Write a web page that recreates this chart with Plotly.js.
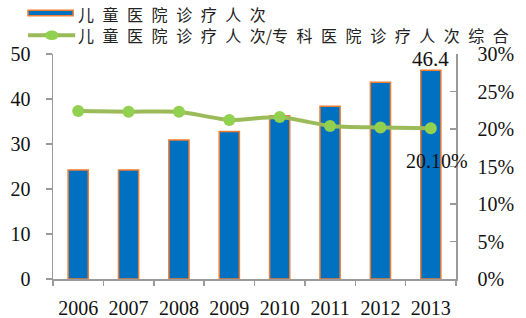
<!DOCTYPE html>
<html><head><meta charset="utf-8">
<script src="https://cdn.plot.ly/plotly-3.0.1.min.js"></script>
<style>html,body{margin:0;padding:0;background:#fff}#c{width:526px;height:318px}</style>
</head><body><div id="c"></div>
<script>
const years = ['2006','2007','2008','2009','2010','2011','2012','2013'];
const visits = [24.2, 24.2, 30.9, 32.8, 36.3, 38.4, 43.7, 46.4];
const ratio = [0.224, 0.223, 0.223, 0.212, 0.216, 0.204, 0.202, 0.201];
const barName = '儿童医院诊疗人次';
const lineName = '儿童医院诊疗人次/专科医院诊疗人次综合';
const spacer = '\u2004\u2009';
const spaced = s => {
  const c = s.split('');
  let out = c[0];
  for (let i = 1; i < c.length; i++) {
    out += (c[i] === '/' || c[i-1] === '/') ? '' : spacer;
    out += c[i];
  }
  return out;
};

const serif = '"Liberation Serif","Times New Roman",serif';
const cjk = '"Noto Sans CJK SC","Noto Sans CJK JP",sans-serif';
const blue = '#0070C0', orange = '#ED7D31', green = '#92D050', lineGreen = '#9BBB59', gray = '#9a9a9a';

const traces = [
  {type:'bar', x:years, y:visits, name:barName, width:0.4,
   marker:{color:blue, line:{color:orange, width:1.5}}, showlegend:false},
  {type:'scatter', mode:'lines+markers', x:years, y:ratio, yaxis:'y2', name:lineName,
   line:{color:lineGreen, width:4, shape:'spline', smoothing:0.6},
   marker:{color:green, size:12}, showlegend:false}
];

const last = years.length-1;
const layout = {
  width:526, height:318, margin:{l:53, r:70, t:54, b:39},
  paper_bgcolor:'#fff', plot_bgcolor:'#fff',
  font:{family:serif, size:16, color:'#111'},
  xaxis:{type:'category', categoryorder:'array', categoryarray:years, range:[-0.5, years.length-0.5],
    showline:true, linecolor:gray, linewidth:1.5,
    ticks:'outside', tickson:'boundaries', ticklen:5, tickcolor:gray, tickwidth:1.5,
    ticklabelstandoff:10, tickangle:0,
    showgrid:false, zeroline:false, tickfont:{family:serif, size:20}},
  yaxis:{range:[0,50], dtick:10, showline:true, linecolor:gray, linewidth:1.5,
    ticks:'outside', ticklen:6, tickcolor:gray, tickwidth:1.5, showgrid:false, zeroline:false,
    ticklabelstandoff:11, tickfont:{family:serif, size:20}},
  yaxis2:{range:[0,0.3], dtick:0.05, tickformat:'.0%', overlaying:'y', side:'right',
    showline:true, linecolor:gray, linewidth:1.5, ticks:'inside', ticklen:6, tickcolor:gray,
    tickwidth:1.5, showgrid:false, zeroline:false, ticklabelstandoff:16,
    tickfont:{family:serif, size:20}},
  shapes:[
    {type:'rect', xref:'paper', yref:'paper', x0:-0.062, x1:0.05, y0:1.17, y1:1.195,
     fillcolor:blue, line:{color:orange, width:1.5}},
    {type:'line', xref:'paper', yref:'paper', x0:-0.062, x1:0.055, y0:1.083, y1:1.083,
     line:{color:lineGreen, width:4}},
    {type:'circle', xref:'paper', yref:'paper', x0:-0.02, x1:0.014, y0:1.062, y1:1.104,
     fillcolor:green, line:{color:green, width:0}}
  ],
  annotations:[
    {xref:'paper', yref:'paper', x:0.058, y:1.18, xanchor:'left', yanchor:'middle',
     text:spaced(barName), showarrow:false, font:{family:cjk, size:16, color:'#222'}},
    {xref:'paper', yref:'paper', x:0.058, y:1.083, xanchor:'left', yanchor:'middle',
     text:spaced(lineName), showarrow:false, font:{family:cjk, size:16, color:'#222'}},
    {x:last, y:visits[last], text:String(visits[last]), showarrow:false,
     yanchor:'bottom', yshift:-3, xshift:0, font:{family:serif, size:21, color:'#111'}},
    {x:last, y:ratio[last], yref:'y2', text:(ratio[last]*100).toFixed(2)+'%', showarrow:false,
     yanchor:'top', yshift:-20, xshift:6, font:{family:serif, size:20, color:'#111'}}
  ]
};
Plotly.newPlot('c', traces, layout, {displayModeBar:false, staticPlot:true});
</script></body></html>
